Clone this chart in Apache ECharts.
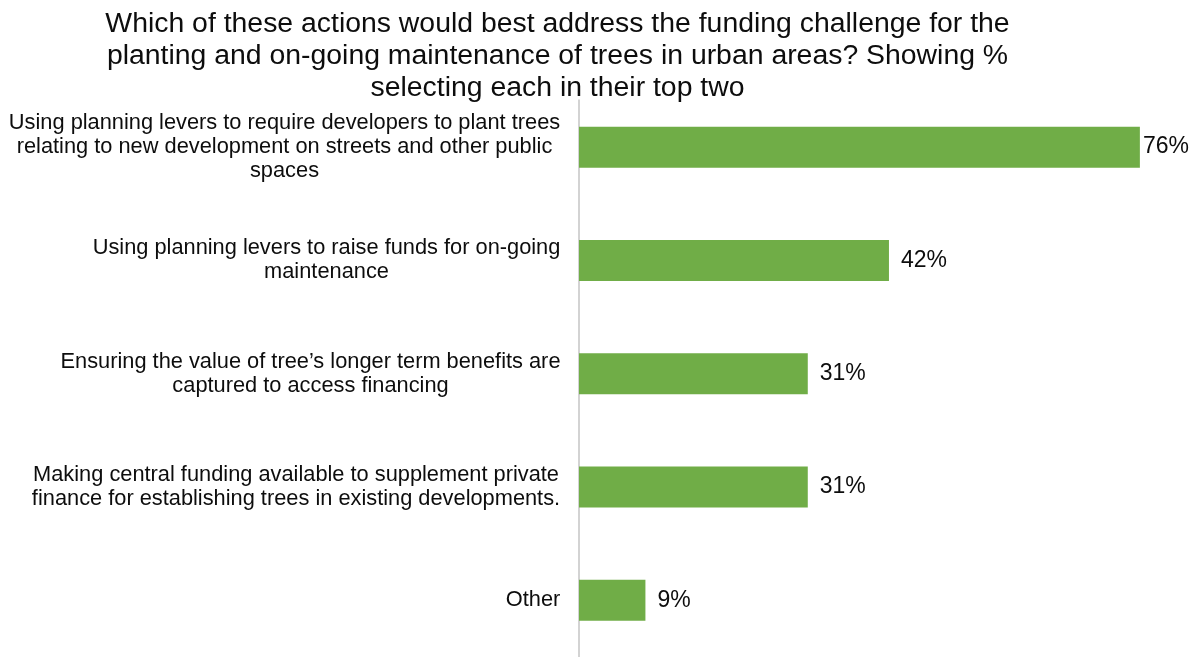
<!DOCTYPE html>
<html>
<head>
<meta charset="utf-8">
<script src="https://cdn.jsdelivr.net/npm/echarts@6/dist/echarts.min.js"></script>
<style>
  html, body { margin: 0; padding: 0; background: #fff; }
  #chart { width: 1195px; height: 657px; }
</style>
</head>
<body>
<div id="chart"></div>
<script>
// Survey question and answer options (top two selections)
const titleLines = [
  'Which of these actions would best address the funding challenge for the',
  'planting and on-going maintenance of trees in urban areas? Showing %',
  'selecting each in their top two'
];

const categories = [
  'Using planning levers to require developers to plant trees\nrelating to new development on streets and other public\nspaces',
  'Using planning levers to raise funds for on-going\nmaintenance',
  'Ensuring the value of tree\u2019s longer term benefits are\ncaptured to access financing',
  'Making central funding available to supplement private\nfinance for establishing trees in existing developments.',
  'Other'
];

// Percentage selecting each option
const values = [76, 42, 31, 31, 9];

const FONT = '"Liberation Sans", Arial, Helvetica, sans-serif';
const LABEL_SIZE = 21.8;

// Width of each label block, so its lines can be centred within it
const measureCtx = document.createElement('canvas').getContext('2d');
measureCtx.font = LABEL_SIZE + 'px "Liberation Sans"';
const rich = {};
categories.forEach(function (cat, i) {
  const w = Math.max.apply(null, cat.split('\n').map(function (l) {
    return measureCtx.measureText(l).width;
  }));
  rich['c' + i] = {
    width: Math.ceil(w) + 1,
    align: 'center',
    fontSize: LABEL_SIZE,
    lineHeight: 24,
    fontFamily: FONT,
    color: '#0d0d0d'
  };
});

const chart = echarts.init(document.getElementById('chart'), null, { renderer: 'canvas' });

chart.setOption({
  backgroundColor: '#ffffff',
  animation: false,
  title: {
    text: titleLines.join('\n'),
    left: 557.5,
    top: 8.5,
    textAlign: 'center',
    padding: [0, 0, -5, 0],
    backgroundColor: '#ffffff',
    textStyle: {
      fontFamily: FONT,
      fontSize: 28.4,
      fontWeight: 'normal',
      lineHeight: 32,
      color: '#0d0d0d'
    }
  },
  grid: {
    left: 579,
    width: 590.4,
    top: 90.5,
    height: 570
  },
  xAxis: {
    type: 'value',
    min: 0,
    max: 80,
    show: false
  },
  yAxis: {
    type: 'category',
    inverse: true,
    data: categories,
    axisTick: { show: false },
    axisLine: { show: true, lineStyle: { color: '#c4c4c4', width: 1.5 } },
    axisLabel: {
      margin: 18,
      align: 'right',
      formatter: function (value, index) {
        return value.split('\n').map(function (l) {
          return '{c' + index + '|' + l + '}';
        }).join('\n');
      },
      rich: rich
    }
  },
  series: [{
    type: 'bar',
    barWidth: 41,
    itemStyle: { color: '#70ad47' },
    label: {
      show: true,
      position: 'right',
      distance: 12,
      formatter: '{c}%',
      fontFamily: FONT,
      fontSize: 23,
      color: '#0d0d0d'
    },
    data: values.map(function (v, i) {
      return i === 0 ? { value: v, label: { distance: 3 } } : v;
    })
  }]
});
</script>
</body>
</html>
